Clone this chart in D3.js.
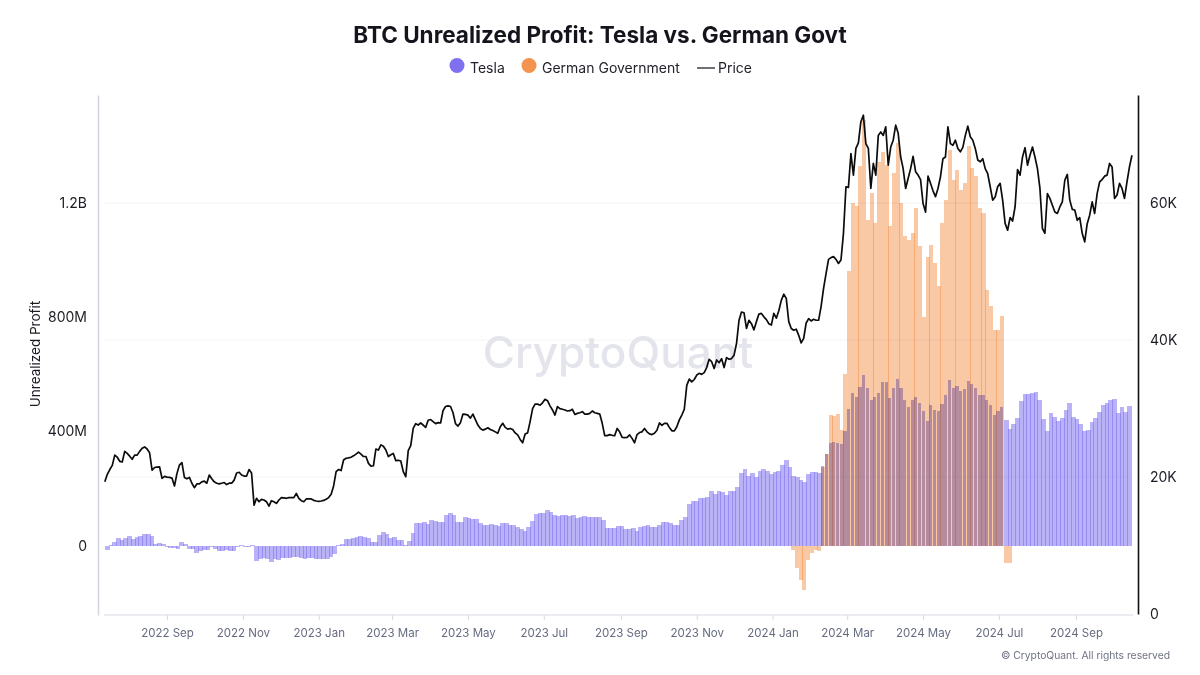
<!DOCTYPE html>
<html>
<head>
<meta charset="utf-8">
<script src="https://cdn.jsdelivr.net/npm/d3@7"></script>
<style>
  html, body { margin: 0; background: #fff; }
  text { font-family: Inter, "Noto Sans", sans-serif; }
</style>
</head>
<body>
<script>
var firstDay = '2022-07-13';
var barStepDays = 3;
var priceStepDays = 2;

// BTC price in thousands of USD, one reading every 2 days
var priceK = [
  19.3,20.4,21.1,21.7,23.2,22.9,22.3,22.2,23.75,23.45,
  23.05,22.6,23.2,23.2,23.75,24.2,24.4,24.1,23.55,21.0,
  21.4,21.45,21.5,19.8,20.1,20.0,19.95,19.85,18.7,20.5,
  21.75,22.1,19.95,19.75,19.95,19.1,18.45,19.0,19.0,19.3,
  19.4,19.1,20.3,19.75,19.3,19.1,19.0,19.1,19.2,18.9,
  19.1,19.1,19.55,20.6,20.7,20.3,20.15,20.15,21.1,20.6,
  15.9,16.9,16.4,16.75,16.65,16.4,15.75,16.55,16.4,16.15,
  16.65,17.0,16.95,16.9,17.0,17.0,17.0,17.6,16.9,16.55,
  16.4,16.8,16.8,16.8,16.6,16.5,16.45,16.5,16.6,16.75,
  17.0,17.5,18.7,20.8,21.1,20.95,22.5,22.75,22.8,22.9,
  23.1,23.35,23.65,23.35,23.0,23.0,22.0,21.6,21.65,24.1,
  23.95,24.7,24.5,23.95,23.0,23.25,23.45,22.4,22.45,22.35,
  20.8,20.05,23.85,24.6,27.1,27.8,27.6,27.9,27.6,27.25,
  28.3,28.4,28.1,27.8,27.95,27.9,29.7,30.3,30.4,30.3,
  29.4,27.8,27.45,27.95,29.2,29.15,29.05,28.6,29.2,28.4,
  27.6,27.1,26.85,27.0,27.2,26.95,26.8,26.6,26.4,27.35,
  27.85,27.25,27.0,27.1,26.95,26.45,26.15,25.5,25.0,26.3,
  26.45,28.1,30.0,30.65,30.65,30.5,30.85,31.35,31.15,30.4,
  29.8,29.05,30.3,30.0,29.9,29.8,29.65,29.7,29.9,29.15,
  29.3,29.4,29.55,29.2,29.2,29.3,29.65,29.4,29.3,29.2,
  27.85,26.05,26.05,26.2,26.1,26.05,27.1,26.6,25.8,25.75,
  25.8,26.15,25.65,25.0,26.2,26.5,26.6,27.1,26.6,26.3,
  26.2,26.4,26.85,27.9,27.55,27.85,27.85,27.25,26.75,26.75,
  27.35,28.35,29.05,29.9,33.4,34.3,33.9,34.25,34.9,35.15,
  35.0,35.25,36.0,37.2,36.85,35.85,37.1,36.7,37.3,36.0,
  37.45,37.2,37.3,37.8,39.5,42.9,44.1,44.0,41.7,42.9,
  42.4,41.5,42.7,43.8,43.9,43.4,43.0,42.4,42.2,43.9,
  43.2,44.3,45.8,46.7,46.1,42.7,41.7,41.45,41.6,40.7,
  39.6,40.25,42.5,43.15,42.8,43.05,42.9,42.9,44.9,47.55,
  49.7,51.8,52.05,52.2,51.8,51.2,51.7,55.6,62.4,62.3,
  67.25,64.1,68.0,68.8,71.9,72.85,68.7,68.0,62.15,65.8,
  64.1,69.9,70.4,69.9,71.15,65.55,68.2,69.2,71.4,70.2,
  66.75,65.05,62.15,63.6,65.05,66.85,64.6,64.1,63.45,59.95,
  58.7,63.95,62.9,61.8,60.95,62.15,63.85,66.5,66.75,71.15,
  68.7,68.45,69.2,68.0,67.5,68.15,69.9,71.25,69.7,69.2,
  68.0,66.3,66.05,66.5,65.05,64.3,62.4,60.45,60.9,62.4,
  62.9,60.45,57.05,56.05,57.9,57.4,59.45,64.9,64.1,66.75,
  68.1,65.55,67.0,68.2,66.75,65.05,62.15,56.3,55.6,61.4,
  60.7,59.7,58.7,58.5,59.45,60.2,63.35,64.2,60.45,59.1,
  59.0,57.5,57.9,55.6,54.35,57.0,58.25,60.2,58.5,61.4,
  63.1,63.45,63.95,64.1,65.8,65.3,60.7,61.2,62.9,62.15,
  60.7,63.1,65.3,67.0
];

// Tesla unrealized profit in millions of USD, one bar every 3 days
var teslaM = [
  -15,2,13,28,20,28,33,25,30,33,
  41,42,34,7,10,5,-6,-7,-9,-11,
  13,5,-10,-12,-25,-18,-15,-15,-3,-12,
  -17,-18,-16,-18,-17,-6,1,-4,-5,3,
  -54,-45,-44,-47,-56,-47,-51,-43,-42,-42,
  -41,-38,-42,-47,-44,-44,-46,-47,-47,-45,
  -41,-28,2,5,22,25,26,30,35,30,
  28,14,12,39,47,42,28,32,21,21,
  2,15,46,79,81,82,76,89,86,84,
  84,108,113,106,83,82,99,98,92,94,
  81,74,74,75,71,68,78,80,74,74,
  67,60,51,67,86,112,116,116,124,117,
  106,105,108,106,104,106,98,101,103,99,
  100,102,100,91,63,63,63,69,69,60,
  60,61,51,66,69,72,66,66,72,82,
  83,80,71,74,89,102,147,155,157,166,
  166,172,191,181,190,189,177,192,192,207,
  256,269,243,253,240,260,268,260,251,258,
  260,281,300,274,243,240,231,222,252,258,
  258,256,279,322,359,362,359,355,402,480,
  536,522,554,596,553,511,520,534,573,574,
  517,553,584,551,511,486,511,519,500,473,
  438,492,474,470,497,529,581,552,559,542,
  547,575,565,552,526,526,511,492,458,472,
  486,439,408,426,447,505,531,531,534,539,
  511,444,403,465,450,437,447,474,501,451,
  442,427,403,404,433,446,469,491,499,511,
  514,464,486,469,490
];

// German government unrealized profit in millions of USD, same 3 day bars
var germanFirstBar = 184;
var germanM = [
  -15,-79,-120,-155,-50,-27,-15,-17,
  275,320,457,454,461,405,600,960,1200,1187,1330,1490,
  1140,1233,1128,1344,1379,1332,1117,1303,1408,1198,
  1082,1070,1093,1181,1047,800,1010,1052,988,907,
  1128,1210,1385,1280,1315,1245,1268,1397,1321,1292,
  1181,1163,895,837,755,755,802,-62,-62
];

var xTickDays = ['2022-09-01','2022-11-01','2023-01-01','2023-03-01','2023-05-01','2023-07-01','2023-09-01','2023-11-01','2024-01-01','2024-03-01','2024-05-01','2024-07-01','2024-09-01'];
var leftTicks = [0, 400, 800, 1200];
var leftTickLabels = ['0', '400M', '800M', '1.2B'];
var rightTicks = [0, 20, 40, 60];
var rightTickLabels = ['0', '20K', '40K', '60K'];

var width = 1200, height = 675;
var svg = d3.select('body').append('svg').attr('width', width).attr('height', height).style('display', 'block');

var parseDay = d3.utcParse('%Y-%m-%d');
var start = parseDay(firstDay);

// two known ticks pin the time scale
var x = d3.scaleUtc()
  .domain([parseDay('2022-09-01'), parseDay('2024-09-01')])
  .range([167, 1076]);
var yLeft = d3.scaleLinear().domain([-242.5, 1577]).range([615, 95]);
var yRight = d3.scaleLinear().domain([0, 75.8]).range([614, 95]);

var barWidth = x(d3.utcDay.offset(start, barStepDays)) - x(start);

// title
svg.append('text').attr('x', 600).attr('y', 43).attr('text-anchor', 'middle')
  .attr('font-size', 22.5).attr('font-weight', 700).attr('fill', '#14141c')
  .text('BTC Unrealized Profit: Tesla vs. German Govt');

// legend
svg.append('circle').attr('cx', 457).attr('cy', 65.5).attr('r', 7.5).attr('fill', '#7f70ef');
svg.append('text').attr('x', 470).attr('y', 72.5).attr('font-size', 14).attr('fill', '#22222c').text('Tesla');
svg.append('circle').attr('cx', 529).attr('cy', 65.5).attr('r', 7.5).attr('fill', '#f2934f');
svg.append('text').attr('x', 542).attr('y', 72.5).attr('font-size', 14).attr('fill', '#22222c').text('German Government');
svg.append('line').attr('x1', 697).attr('x2', 715).attr('y1', 68).attr('y2', 68).attr('stroke', '#22222c').attr('stroke-width', 1.3);
svg.append('text').attr('x', 718).attr('y', 72.5).attr('font-size', 14).attr('fill', '#22222c').text('Price');

// grid lines follow the right axis
svg.append('g').selectAll('line').data(rightTicks.slice(1)).enter().append('line')
  .attr('x1', 105).attr('x2', 1132)
  .attr('y1', function (d) { return yRight(d); })
  .attr('y2', function (d) { return yRight(d); })
  .attr('stroke', '#f3f3f6');

// watermark
svg.append('text').attr('x', 618).attr('y', 368).attr('text-anchor', 'middle')
  .attr('font-size', 44).attr('font-weight', 500).attr('fill', '#e4e5ec').text('CryptoQuant');

function germanAt(i) {
  var g = germanM[i - germanFirstBar];
  return g === undefined ? 0 : g;
}

// tesla bars overlap a little so the seams come out darker,
// under the german bars they leave a slit instead
svg.append('g').style('shape-rendering', 'crispEdges')
  .selectAll('rect').data(teslaM).enter().append('rect')
  .attr('x', function (d, i) { return x(d3.utcDay.offset(start, i * barStepDays)); })
  .attr('width', function (d, i) { return germanAt(i) > 0 ? barWidth - 0.6 : barWidth + 1; })
  .attr('y', function (d) { return yLeft(Math.max(d, 0)); })
  .attr('height', function (d) { return Math.abs(yLeft(d) - yLeft(0)); })
  .attr('fill', '#7566ee')
  .attr('fill-opacity', 0.5);

// german bars multiply over the purple
svg.append('g').style('mix-blend-mode', 'multiply').style('shape-rendering', 'crispEdges')
  .selectAll('rect').data(germanM).enter().append('rect')
  .attr('x', function (d, i) { return x(d3.utcDay.offset(start, (i + germanFirstBar) * barStepDays)); })
  .attr('width', barWidth + 0.3)
  .attr('y', function (d) { return yLeft(Math.max(d, 0)); })
  .attr('height', function (d) { return Math.abs(yLeft(d) - yLeft(0)); })
  .attr('fill', '#f28a3e')
  .attr('fill-opacity', 0.47);

// price line
var priceLine = d3.line()
  .x(function (d, i) { return x(d3.utcDay.offset(start, i * priceStepDays)); })
  .y(function (d) { return yRight(d); });
svg.append('path').datum(priceK)
  .attr('d', priceLine)
  .attr('fill', 'none').attr('stroke', '#0c0c0c').attr('stroke-width', 1.7).attr('stroke-linejoin', 'round');

// x axis
var xAxis = d3.axisBottom(x)
  .tickValues(xTickDays.map(parseDay))
  .tickFormat(d3.utcFormat('%Y %b'))
  .tickSize(5).tickSizeOuter(0);
var gx = svg.append('g').attr('transform', 'translate(0,615)').call(xAxis);
gx.select('.domain').remove();
gx.append('line').attr('x1', 104).attr('x2', 1133).attr('stroke', '#d8dae2');
gx.selectAll('.tick line').attr('stroke', '#d8dae2');
gx.selectAll('.tick text').attr('font-family', 'Inter').attr('font-size', 11.5).attr('fill', '#666b80').attr('dy', 14);

// left axis
var leftAxis = d3.axisLeft(yLeft)
  .tickValues(leftTicks)
  .tickFormat(function (d, i) { return leftTickLabels[i]; })
  .tickSize(0);
var gl = svg.append('g').attr('transform', 'translate(98,0)').call(leftAxis);
gl.select('.domain').attr('stroke', '#d3d5de').attr('stroke-width', 1.5);
gl.selectAll('.tick text').attr('font-family', 'Inter').attr('font-size', 14).attr('fill', '#1c1c24').attr('x', -11);

// right axis
var rightAxis = d3.axisRight(yRight)
  .tickValues(rightTicks)
  .tickFormat(function (d, i) { return rightTickLabels[i]; })
  .tickSize(0);
var gr = svg.append('g').attr('transform', 'translate(1138,0)').call(rightAxis);
gr.select('.domain').attr('stroke', '#111').attr('stroke-width', 1.6);
gr.selectAll('.tick text').attr('font-family', 'Inter').attr('font-size', 14).attr('fill', '#1c1c24').attr('x', 12);

svg.append('text').attr('transform', 'translate(40,354) rotate(-90)').attr('text-anchor', 'middle')
  .attr('font-size', 13.5).attr('fill', '#1c1c24').text('Unrealized Profit');

svg.append('text').attr('x', 1170).attr('y', 659).attr('text-anchor', 'end')
  .attr('font-size', 10.3).attr('fill', '#6f7384').text('© CryptoQuant. All rights reserved');
</script>
</body>
</html>
